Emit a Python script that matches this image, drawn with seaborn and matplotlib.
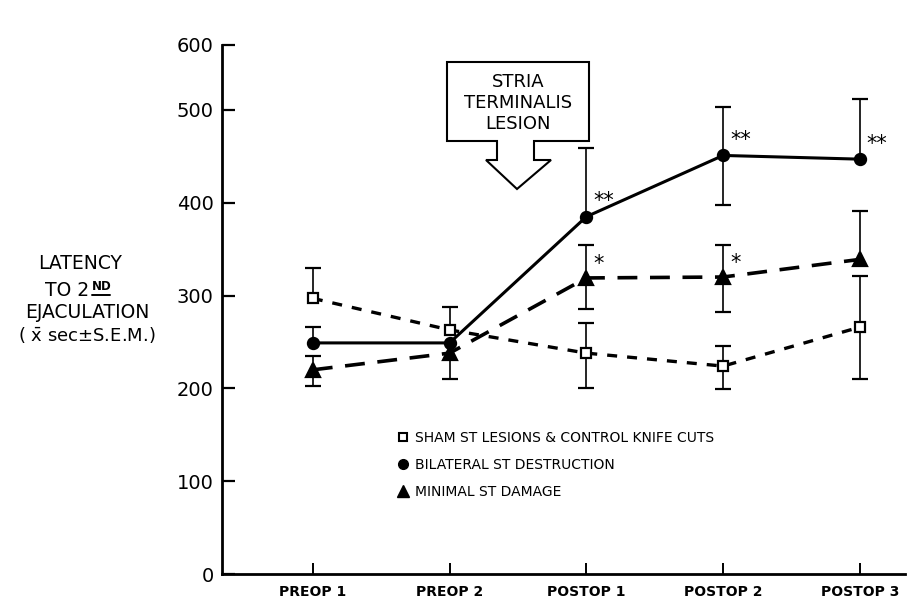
import numpy as np
import matplotlib
matplotlib.use("Agg")
import matplotlib.pyplot as plt
from matplotlib.lines import Line2D
from matplotlib.patches import Polygon
import seaborn as sns

# ---------------- data ----------------
phases = ["PREOP 1", "PREOP 2", "POSTOP 1", "POSTOP 2", "POSTOP 3"]

sham_mean = [297, 263, 238, 224, 266]
sham_up = [33, 25, 32, 22, 55]
sham_dn = [0, 0, 38, 25, 56]

bilat_mean = [249, 249, 385, 451, 447]
bilat_up = [17, 0, 74, 52, 65]
bilat_dn = [0, 0, 0, 53, 0]
bilat_sig = ["", "", "**", "**", "**"]

minimal_mean = [220, 238, 319, 320, 339]
minimal_up = [15, 0, 35, 35, 52]
minimal_dn = [17, 28, 33, 38, 0]
minimal_sig = ["", "", "*", "*", ""]

legend_labels = ["SHAM ST LESIONS & CONTROL KNIFE CUTS",
                 "BILATERAL ST DESTRUCTION",
                 "MINIMAL ST DAMAGE"]

ytick_values = [0, 100, 200, 300, 400, 500, 570]
ytick_labels = ["0", "100", "200", "300", "400", "500", "600"]

# ---------------- figure ----------------
sns.set_theme(style="white")
plt.rcParams['font.family'] = ['DejaVu Sans']
plt.rcParams['text.color'] = 'black'
plt.rcParams['axes.labelcolor'] = 'black'
plt.rcParams['xtick.color'] = 'black'
plt.rcParams['ytick.color'] = 'black'

W, H = 907, 601
fig = plt.figure(figsize=(W / 100, H / 100), dpi=100)
ax = fig.add_axes([222 / W, 1 - 574 / H, (905 - 222) / W, (574 - 45) / H])

x = np.arange(len(phases))

series = [
    dict(mean=sham_mean, up=sham_up, dn=sham_dn, marker="s", ms=7, mfc="white",
         ls=(0, (3.0, 3.0)), lw=2.4),
    dict(mean=bilat_mean, up=bilat_up, dn=bilat_dn, marker="o", ms=8, mfc="black",
         ls="-", lw=2.2),
    dict(mean=minimal_mean, up=minimal_up, dn=minimal_dn, marker="^", ms=10, mfc="black",
         ls=(0, (5.5, 3.5)), lw=2.6),
]

for s in series:
    m = np.array(s["mean"], float)
    up = np.array(s["up"], float)
    dn = np.array(s["dn"], float)
    mu = up > 0
    md = dn > 0
    ax.vlines(x[mu], m[mu], m[mu] + up[mu], color="black", lw=1.2, zorder=2)
    ax.vlines(x[md], m[md] - dn[md], m[md], color="black", lw=1.2, zorder=2)
    ax.plot(x[mu], m[mu] + up[mu], ls="none", marker="_", ms=11, mew=1.6, color="black", zorder=2)
    ax.plot(x[md], m[md] - dn[md], ls="none", marker="_", ms=11, mew=1.6, color="black", zorder=2)
    sns.lineplot(x=x, y=m, ax=ax, color="black", linestyle=s["ls"], linewidth=s["lw"],
                 zorder=3, legend=False)
    ax.plot(x, m, ls="none", marker=s["marker"], ms=s["ms"], mfc=s["mfc"], mec="black",
            mew=1.6, zorder=4)

# significance stars
for xi, yi, lab in zip(x, bilat_mean, bilat_sig):
    if lab:
        ax.annotate(lab, (xi, yi), xytext=(5, 4), textcoords="offset points",
                    ha="left", va="bottom", fontsize=15, color="black")
for xi, yi, lab in zip(x, minimal_mean, minimal_sig):
    if lab:
        ax.annotate(lab, (xi, yi), xytext=(5, 3), textcoords="offset points",
                    ha="left", va="bottom", fontsize=15, color="black")

# axes styling
ax.set_xlim(-0.664, 4.33)
ax.set_ylim(0, 570)
ax.set_xticks(x)
ax.set_xticklabels(phases, fontsize=10, fontweight="bold")
ax.set_yticks(ytick_values)
ax.set_yticklabels(ytick_labels, fontsize=14)
ax.tick_params(axis="y", direction="in", length=9, width=1.6, pad=6, left=True, colors="black")
ax.tick_params(axis="x", direction="in", length=8, width=1.4, pad=8, bottom=True, colors="black")
for side in ["top", "right"]:
    ax.spines[side].set_visible(False)
for side in ["left", "bottom"]:
    ax.spines[side].set_color("black")
    ax.spines[side].set_linewidth(2.0)
ax.set_xlabel("")
ax.set_ylabel("")
ax.set_facecolor("white")
fig.patch.set_facecolor("white")

# legend
handles = [
    Line2D([], [], ls="none", marker="s", ms=6, mfc="white", mec="black", mew=1.5),
    Line2D([], [], ls="none", marker="o", ms=7, mfc="black", mec="black"),
    Line2D([], [], ls="none", marker="^", ms=9, mfc="black", mec="black"),
]
leg = fig.legend(handles, legend_labels, loc="upper left",
                 bbox_to_anchor=(390 / W, 1 - 424 / H), frameon=False, fontsize=10,
                 handlelength=0.8, handletextpad=0.5, labelspacing=0.95, borderpad=0)
for t in leg.get_texts():
    t.set_color("black")

# y-axis label (multi-line, left of axis)
fig.text(80 / W, 1 - 263 / H, "LATENCY", ha="center", va="center", fontsize=13.5)
fig.text(89 / W, 1 - 291 / H, "TO 2", ha="right", va="center", fontsize=13.5)
fig.text(92 / W, 1 - 287 / H, "ND", ha="left", va="center", fontsize=8.5, fontweight="bold")
fig.add_artist(Line2D([92 / W, 110 / W], [1 - 295 / H, 1 - 295 / H], color="black", lw=1.4,
                      transform=fig.transFigure))
fig.text(87 / W, 1 - 313 / H, "EJACULATION", ha="center", va="center", fontsize=13.5)
fig.text(87 / W, 1 - 335 / H, r"( $\bar{\mathrm{x}}$ sec$\pm$S.E.M.)", ha="center", va="center",
         fontsize=13)

# annotation arrow-box "STRIA TERMINALIS LESION"
box_px = [(447, 62), (589, 62), (589, 141), (534, 141), (534, 160), (551, 160),
          (517, 189), (486, 160), (497, 160), (497, 141), (447, 141)]
poly = Polygon([(px / W, 1 - py / H) for px, py in box_px], closed=True,
               facecolor="white", edgecolor="black", lw=1.5, transform=fig.transFigure)
fig.add_artist(poly)
for txt, py in zip(["STRIA", "TERMINALIS", "LESION"], [82, 103, 124]):
    fig.text(518 / W, 1 - py / H, txt, ha="center", va="center", fontsize=13)

fig.savefig("out.png", dpi=100, facecolor="white")
